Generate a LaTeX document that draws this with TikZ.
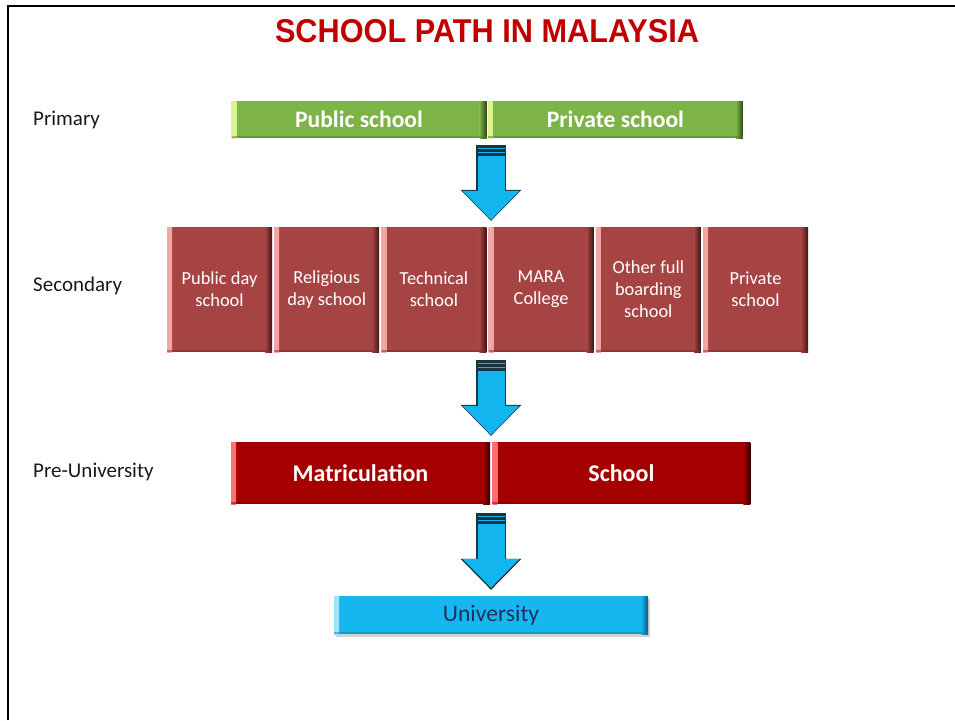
\documentclass[tikz,border=0pt]{standalone}
\usepackage{fontspec}
\setmainfont{Carlito}
\newfontfamily\titlefont{Liberation Sans}
\usetikzlibrary{positioning,arrows.meta,shadows}

\definecolor{titlered}{HTML}{C00000}
\definecolor{primgreen}{HTML}{7EB348}
\definecolor{primlight}{HTML}{DDF28E}
\definecolor{primdark}{HTML}{2E4716}
\definecolor{secred}{HTML}{A64444}
\definecolor{seclight}{HTML}{F2A8A4}
\definecolor{secdark}{HTML}{3E1414}
\definecolor{prered}{HTML}{A50000}
\definecolor{prelight}{HTML}{FF7070}
\definecolor{predark}{HTML}{300000}
\definecolor{unicyan}{HTML}{16B7EF}
\definecolor{unilight}{HTML}{9AE6FF}
\definecolor{unidark}{HTML}{0A5C7C}
\definecolor{uninavy}{HTML}{1F3060}
\definecolor{arrowcyan}{HTML}{12B5EE}
\definecolor{arrowedge}{HTML}{1B3442}

\tikzset{
  bevel/.style n args={3}{fill=#1, path picture={
    \shade[left color=#2, right color=#1] (path picture bounding box.north west) rectangle ([xshift=5pt]path picture bounding box.south west);
    \shade[left color=#1, right color=#3] ([xshift=-7pt]path picture bounding box.north east) rectangle (path picture bounding box.south east);
    \fill[#1!70!black, opacity=0.5] ([yshift=2pt]path picture bounding box.south west) rectangle (path picture bounding box.south east);
  }},
  lvl/.style={anchor=west, inner sep=0pt, text=black!90, font=\fontsize{21}{25}\selectfont},
  primbox/.style={bevel={primgreen}{primlight}{primdark}, text=white, inner sep=0pt,
    minimum width=255pt, minimum height=37pt, font=\bfseries\fontsize{23.6}{28}\selectfont},
  secbox/.style={bevel={secred}{seclight}{secdark}, text=white, inner sep=0pt, align=center,
    minimum width=105pt, minimum height=125pt, font=\fontsize{18.4}{22}\selectfont},
  prebox/.style={bevel={prered}{prelight}{predark}, text=white, inner sep=0pt,
    minimum width=258pt, minimum height=62pt, font=\bfseries\fontsize{24}{28}\selectfont},
  unibox/.style={bevel={unicyan}{unilight}{unidark}, text=uninavy, inner sep=0pt,
    minimum width=314pt, minimum height=38pt, font=\fontsize{23.6}{28}\selectfont,
    drop shadow={opacity=0.35, shadow xshift=2pt, shadow yshift=-3pt}},
  blockarrow/.style={draw=arrowcyan, line width=27pt,
    -{Triangle[width=57pt,length=29pt,line width=0pt]}, shorten <=7pt, shorten >=7pt,
    preaction={draw=arrowedge, line width=30pt,
      -{Triangle[width=61pt,length=31pt,line width=0pt]}, shorten >=6pt},
    postaction={draw=arrowedge, -, line width=28pt,
      dash pattern=on 3pt off 1pt on 3pt off 1pt on 3pt off 2000pt}}
}

\begin{document}
\begin{tikzpicture}[x=1pt, y=-1pt]

	\useasboundingbox (0,0) rectangle (955,720);
	\draw[line width=2.6pt] (8,720) -- (8,6) -- (955,6);

	\node[text=titlered, font=\titlefont\bfseries\fontsize{33}{36}\selectfont] (title) at (487,31)
		{\scalebox{0.93}[1]{SCHOOL PATH IN MALAYSIA}};

	%% Primary
	\node[primbox] (pub) at (359,119.5) {Public school};
	\node[primbox] (priv) [right =1pt of pub] {Private school};
	\node[lvl] (l_prim) at (33,120) {Primary};

	%% Secondary
	\node[secbox] (sec_1) at (219.5,289.5) {Public day\\school};
	\node[secbox] (sec_2) [right =1.8pt of sec_1] {Religious\\day school};
	\node[secbox] (sec_3) [right =1.8pt of sec_2] {Technical\\school};
	\node[secbox] (sec_4) [right =1.8pt of sec_3] {MARA\\College};
	\node[secbox] (sec_5) [right =1.8pt of sec_4] {Other full\\boarding\\school};
	\node[secbox] (sec_6) [right =1.8pt of sec_5] {Private\\school};
	\node[lvl] (l_sec) at (33,286) {Secondary};

	%% Pre-University
	\node[prebox, minimum width=259pt] (matric) at (360.5,473) {Matriculation};
	\node[prebox] (presch) [right =2pt of matric] {School};
	\node[lvl] (l_pre) at (33,472) {Pre-University};

	%% University
	\node[unibox] (uni) at (491,615) {University};

	\draw[blockarrow] (pub.south -| uni.north) -- (sec_1.north -| uni.north);
	\draw[blockarrow, shorten <=8pt] (sec_1.south -| uni.north) -- (matric.north -| uni.north);
	\draw[blockarrow, shorten <=9pt, shorten >=8pt] (matric.south -| uni.north) -- (uni.north);

\end{tikzpicture}
\end{document}
